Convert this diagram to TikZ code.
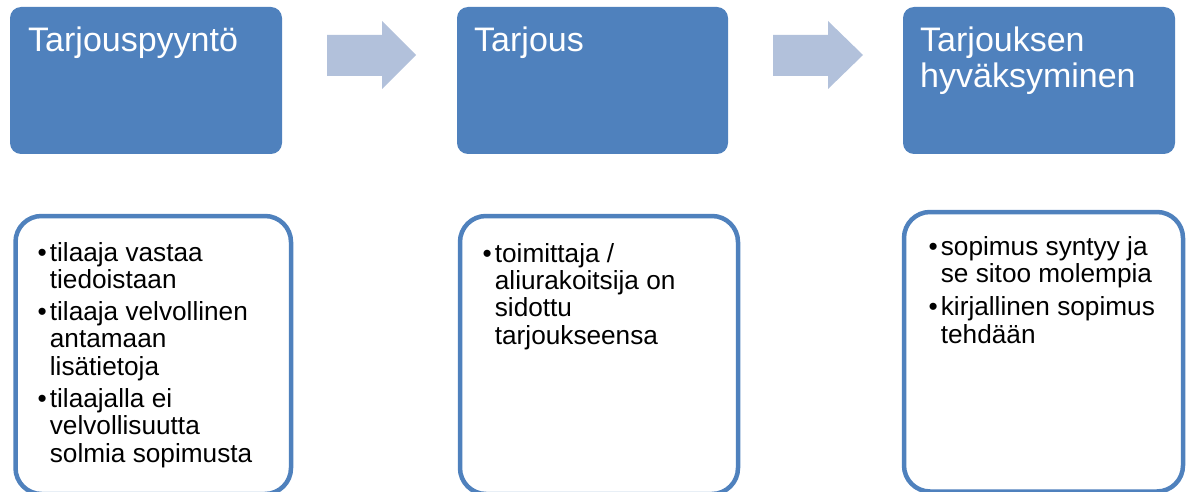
\documentclass[tikz,border=0pt]{standalone}
\usepackage{fontspec}
\setmainfont{Liberation Sans}
\definecolor{accent}{RGB}{79,129,189}
\definecolor{arrowfill}{RGB}{178,193,219}
\tikzset{
  topbox/.style={fill=accent, rounded corners=11pt},
  bottombox/.style={draw=accent, line width=4.5pt, rounded corners=26pt, fill=white},
  titletext/.style={text=white, inner sep=0pt, anchor=base west, font=\fontsize{34}{35}\selectfont},
  bullettext/.style={text=black, inner sep=0pt, anchor=base west, font=\fontsize{26.2}{27.4}\selectfont},
  flowarrow/.style={fill=arrowfill}
}
\newcommand{\bl}{\textbullet}
\begin{document}
\begin{tikzpicture}[x=1pt,y=-1pt]
\useasboundingbox (0,0) rectangle (1189,492);
% top boxes
\path[topbox] (10,7) rectangle (282,154);
\path[topbox] (457,7) rectangle (728,154);
\path[topbox] (903,7) rectangle (1175,154);
\coordinate (t1) at (28,52);
\coordinate (t2) at (474,52);
\coordinate (t3) at (920,52);
\node[titletext] (h1) at (t1) {Tarjouspyyntö};
\node[titletext] (h2) at (t2) {Tarjous};
\node[titletext] (h3) at (t3) {\begin{tabular}[t]{@{}l@{}}Tarjouksen\\hyväksyminen\end{tabular}};
% arrows
\fill[flowarrow] (327,35) -- (382,35) -- (382,21) -- (416,55) -- (382,89) -- (382,76) -- (327,76) -- cycle;
\fill[flowarrow] (773,35) -- (828,35) -- (828,21) -- (863,55) -- (828,89) -- (828,76) -- (773,76) -- cycle;
% bottom boxes
\draw[bottombox] (15.5,216) rectangle (291,494);
\draw[bottombox] (460,216) rectangle (738,494);
\draw[bottombox] (904,212) rectangle (1183,491.5);
% bullet lists
\node[bullettext] (b1) at (37.5,261) {\begin{tabular}[t]{@{}l@{\hspace{3pt}}l@{}}
\bl & tilaaja vastaa\\
    & tiedoistaan\\[4.7pt]
\bl & tilaaja velvollinen\\
    & antamaan\\
    & lisätietoja\\[4.7pt]
\bl & tilaajalla ei\\
    & velvollisuutta\\
    & solmia sopimusta
\end{tabular}};
\node[bullettext] (b2) at (482.5,262) {\begin{tabular}[t]{@{}l@{\hspace{3pt}}l@{}}
\bl & toimittaja /\\
    & aliurakoitsija on\\
    & sidottu\\
    & tarjoukseensa
\end{tabular}};
\node[bullettext] (b3) at (928.5,255) {\begin{tabular}[t]{@{}l@{\hspace{3pt}}l@{}}
\bl & sopimus syntyy ja\\
    & se sitoo molempia\\[6pt]
\bl & kirjallinen sopimus\\
    & tehdään
\end{tabular}};
\end{tikzpicture}
\end{document}
